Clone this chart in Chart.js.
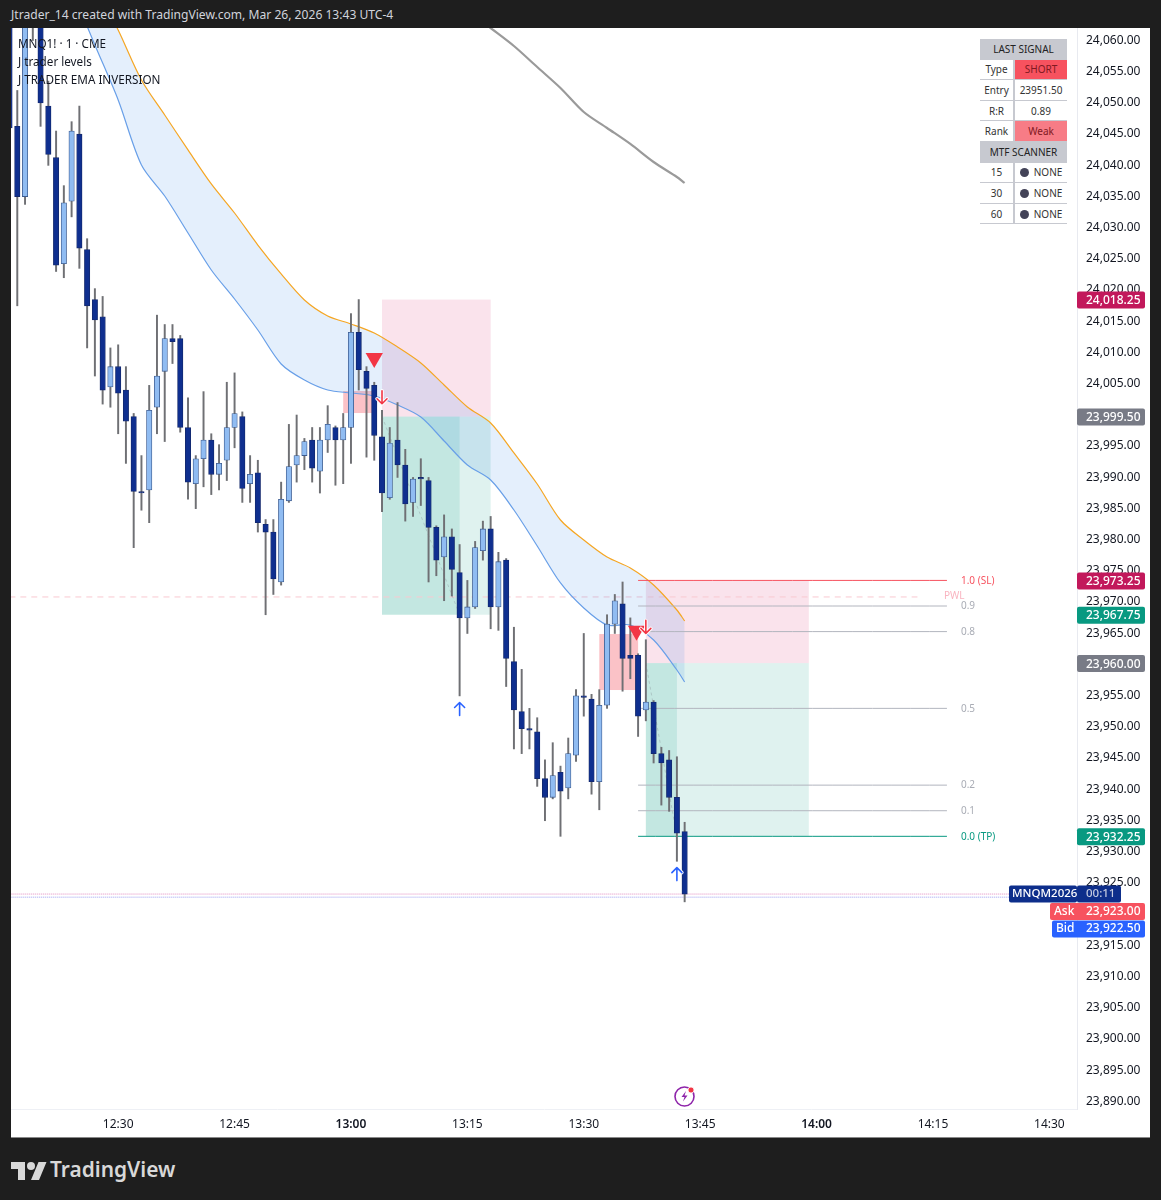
<!DOCTYPE html>
<html>
<head>
<meta charset="utf-8">
<title>MNQ1! 1m</title>
<script src="https://cdn.jsdelivr.net/npm/chart.js@4"></script>
<style>
  html, body { margin: 0; padding: 0; background: #1e1e1e; }
  body { position: relative; width: 1161px; height: 1200px; overflow: hidden; font-family: "Noto Sans", sans-serif; }
  #title { position: absolute; left: 11px; top: 7px; color: #d1d4dc; font-size: 12.1px; line-height: 16px; white-space: nowrap; }
  #chartBox { position: absolute; left: 11px; top: 28px; width: 1139px; height: 1109px; background: #fff; border-bottom: 1px solid #888; box-sizing: content-box; }
  #legend { position: absolute; left: 18px; top: 34px; color: #131722; font-size: 11.7px; line-height: 18px; }
  #signal { position: absolute; left: 980px; top: 39px; width: 87px; border-collapse: collapse; font-size: 10px; color: #333; text-align: center; table-layout: fixed; background: #fff; }
  #signal td { padding: 0; height: 19.6px; border-bottom: 1px solid #c7c9d0; white-space: nowrap; }
  #signal td.lead { border-right: 2px solid #c7c9d0; }
  #signal .head { background: #c7c9d0; color: #222; }
  #signal .short { background: #f7525f; color: #801922; }
  #signal .weak { background: #f77c86; color: #801922; }
  #signal i { display: inline-block; width: 9px; height: 9px; border-radius: 50%; background: #434358; margin-right: 5px; vertical-align: -1px; }
  #bolt { position: absolute; left: 673px; top: 1084px; }
  #logo { position: absolute; left: 11px; top: 1158px; }
  #brand { position: absolute; left: 50px; top: 1154px; color: #d8d8d8; font-size: 20.9px; font-weight: 600; line-height: 30px; }
</style>
</head>
<body>
<div id="title">Jtrader_14 created with TradingView.com, Mar 26, 2026 13:43 UTC-4</div>
<div id="chartBox"><canvas id="chart" width="1139" height="1109"></canvas></div>
<div id="legend">MNQ1! · 1 · CME<br>J trader levels<br>J TRADER EMA INVERSION</div>
<table id="signal">
  <colgroup><col style="width:34px"><col style="width:53px"></colgroup>
  <tr><td class="head" colspan="2">LAST SIGNAL</td></tr>
  <tr><td class="lead">Type</td><td class="short">SHORT</td></tr>
  <tr><td class="lead">Entry</td><td>23951.50</td></tr>
  <tr><td class="lead">R:R</td><td>0.89</td></tr>
  <tr><td class="lead">Rank</td><td class="weak">Weak</td></tr>
  <tr><td class="head" colspan="2">MTF SCANNER</td></tr>
  <tr><td class="lead">15</td><td><i></i>NONE</td></tr>
  <tr><td class="lead">30</td><td><i></i>NONE</td></tr>
  <tr><td class="lead">60</td><td><i></i>NONE</td></tr>
</table>
<svg id="bolt" width="24" height="24" viewBox="0 0 24 24">
  <circle cx="11.5" cy="12.5" r="9.5" fill="none" stroke="#8e24aa" stroke-width="1.6"/>
  <path d="M13 7l-4.5 6h3l-1.5 4.5 4.5-6h-3z" fill="#8e24aa"/>
  <circle cx="18" cy="6" r="3" fill="#f23645" stroke="#fff" stroke-width="0.8"/>
</svg>
<svg id="logo" width="36" height="28" viewBox="0 0 36 28" fill="#d8d8d8">
  <path d="M14 22H7V11H0V4h14v18zM28 22h-8l7.5-18h8L28 22z"/><circle cx="20" cy="8" r="4"/>
</svg>
<div id="brand">TradingView</div>

<script>
// minutes are counted from 13:00, first candle is 12:16
const firstMinute = -44;

const opens = [24066,24046,24034.75,24066,24068,24049.25,24041,24024,24034,24044.75,24026.25,24018.25,24015.5,24004.25,24007.5,24003.75,
  23999.5,23987.5,23987.75,24001,24006.75,24012,24012,23997.75,23988.75,23992.75,23995.75,23990.25,23992.5,23997.75,23999.5,23988.75,
  23990.5,23982.25,23981,23973,23986,23991.75,23993.25,23995.75,23990.75,23995.75,23997.75,23995.75,23997.75,24013,24006.75,24004.5,
  23996.25,23986.5,23995.75,23991.75,23985.75,23989.75,23989.25,23981.75,23977,23980.25,23974.5,23967.25,23969,23978,23981.5,23969,
  23976.5,23960.25,23952.25,23949.5,23949,23941.5,23938.5,23942.5,23940,23945.25,23954.75,23954.25,23941,23953.25,23966.25,23969.5,
  23961.25,23961.25,23952.5,23953.75,23945.5,23944.5,23938.5,23933];
const highs = [24070,24051.75,24070,24072,24072,24053.25,24045.25,24036.5,24046.75,24049.25,24028,24020,24018.75,24010.5,24011,24007.5,
  24000,23993.25,24004.5,24015.75,24014.25,24014.25,24012.5,24002.5,23993.25,24003.5,23996.75,23995,24005,24006.5,24000.25,23993.25,
  23992.5,23983,23983,23989,23998.25,23999.75,23996,23997.75,23997.75,24001.25,23998,24000,24016,24018.25,24007.5,24005,
  24000.5,23997.75,24001.75,23994.25,23989.75,23992.75,23989.75,23982,23983.75,23981.5,23979,23973.25,23979.5,23982.75,23983.5,23977.75,
  23976.75,23965.75,23959,23952.75,23951.25,23944.5,23947.25,23943.5,23948,23955.75,23964.75,23955,23955.75,23967.75,23971,23973,
  23967.25,23961.5,23963.75,23954,23946.5,23946,23945,23934.5];
const lows = [24043,24017.25,24033.5,24059.75,24046,24039.75,24022.75,24021.75,24031.5,24023.25,24010.5,24006,24001.5,24001,23996.75,23992,
  23978.5,23984.5,23982.5,23996.75,23995.5,24008,23997,23986.25,23984.75,23988.25,23987,23987.75,23989.25,23994.5,23985.75,23985.75,
  23981,23967.75,23971,23972.5,23985.75,23989,23991,23989,23987.25,23993.75,23988.5,23988.75,23992,24003.75,23993,23992.5,
  23984.25,23986.25,23989.75,23982.75,23983.5,23985.25,23973,23974,23970,23970.75,23954.75,23964.75,23968.75,23976.5,23965.5,23965.25,
  23956.25,23946.25,23945.5,23946.25,23940.25,23934.75,23938.25,23932.25,23938.25,23944.25,23951.5,23939,23936.5,23952.75,23964.75,23955.5,
  23957.5,23948.25,23950.75,23944,23937.25,23936.25,23928.25,23921.75];
const closes = [24045.75,24034.75,24066,24068,24049.75,24041.5,24023.75,24033.75,24045.25,24026.5,24017.25,24015,24003.75,24007.5,24003.25,23998.75,
  23987.5,23987.25,24000.5,24006,24012,24011.5,23997.75,23989,23992.75,23995.75,23990.25,23992,23997.75,24000,23988,23990.25,
  23982.5,23981,23973.5,23986.25,23991.5,23993.25,23995.5,23991.25,23995.75,23998.25,23995.75,23997.75,24013,24007,24004,23996.5,
  23987.25,23995.25,23991.75,23985.5,23989.5,23989.5,23981.75,23976.5,23980.25,23975,23967.25,23969,23978.5,23981.5,23969,23976.25,
  23960.75,23952.5,23949.5,23949.25,23941.5,23938.5,23942,23939.5,23945.5,23954.75,23954.5,23941,23953.25,23966.25,23970,23960.75,
  23960.75,23951.5,23953.75,23945.5,23944,23938.5,23932.75,23923];

// EMA band and the long average, read every 3 minutes
const bandMinutes = [-36,-33,-30,-27,-24,-21,-18,-15,-12,-9,-6,-3,0,3,6,9,12,15,18,21,24,27,30,33,36,39,42,43];
const emaUpper = [24079,24068.65,24061.44,24053.43,24047.82,24042.22,24036.77,24032.12,24026.99,24022.35,24018.18,24015.62,24014.34,24012.89,
  24010.65,24008.09,24004.56,24001.04,23998.47,23993.67,23988.7,23982.93,23979.73,23977,23975.24,23972.52,23968.51,23966.75];
const emaLower = [24068,24059.04,24050.23,24039.81,24034.84,24028.92,24022.99,24018.34,24013.37,24007.93,24005.36,24003.76,24003.28,24002.8,
  24001.36,23999.43,23995.59,23991.74,23989.34,23984.53,23978.76,23972.84,23968.83,23966.11,23966.11,23963.7,23958.9,23956.97];
const slowMinutes = [17,18,21,24,27,30,33,36,39,42,43];
const slowAverage = [24062.7,24061.76,24058.88,24055.51,24052.15,24048.3,24045.74,24043.18,24040.29,24037.89,24036.93];

// two trades: stop, entry, target, start, end of fill, end of box
const tradeStop = [24018.25, 23973.25];
const tradeEntry = [23999.5, 23960];
const tradeTarget = [23967.75, 23932.25];
const tradeStart = [4, 38];
const tradeFill = [14, 42];
const tradeEnd = [18, 59];

const zoneStart = [-1, 32];
const zoneEnd = [3, 37];
const zoneTop = [24003.6, 23964.66];
const zoneBottom = [24000.07, 23955.69];

const fibLabels = ["1.0 (SL)", "0.9", "0.8", "0.5", "0.2", "0.1", "0.0 (TP)"];
const fibPrices = [23973.25, 23969.15, 23965.05, 23952.75, 23940.45, 23936.35, 23932.25];
const fibColors = ["#f7525f", "#b2b5be", "#b2b5be", "#b2b5be", "#b2b5be", "#b2b5be", "#089981"];
const fibStart = 37;
const fibEnd = 76.8;

const pwlPrice = 23970.6;
const pwlEnd = 73;
const askPrice = 23923;
const bidPrice = 23922.5;

const sellMinutes = [3, 36.8];
const sellPrices = [24008.9, 23965.2];
const downArrowMinutes = [4, 38];
const downArrowPrices = [24002.6, 23965.8];
const upArrowMinutes = [14, 42];
const upArrowPrices = [23952.65, 23926.2];

const tagPrices = [24018.25, 23999.5, 23973.25, 23967.75, 23960, 23932.25];
const tagColors = ["#c2185b", "#787b86", "#c2185b", "#089981", "#787b86", "#089981"];

const xTickLabels = { "-30": "12:30", "-15": "12:45", "0": "13:00", "15": "13:15", "30": "13:30", "45": "13:45", "60": "14:00", "75": "14:15", "90": "14:30" };

const fontName = '"Noto Sans", sans-serif';
const money = (v) => v.toLocaleString("en-US", { minimumFractionDigits: 2, maximumFractionDigits: 2 });
const candleMinute = (i) => firstMinute + i;
const isUp = (i) => closes[i] >= opens[i];

function lineSet(xs, ys, color, width, dash, order) {
  return {
    type: "line",
    data: xs.map((x, i) => ({ x: x, y: ys[i] })),
    borderColor: color,
    borderWidth: width,
    borderDash: dash || [],
    pointRadius: 0,
    tension: 0.3,
    fill: false,
    order: order,
  };
}

function roundBox(ctx, x, y, w, h, color) {
  ctx.fillStyle = color;
  ctx.beginPath();
  ctx.roundRect(x, y, w, h, 2);
  ctx.fill();
}

// boxes under the candles, tags and labels on top of everything
const overlays = {
  id: "overlays",
  beforeDatasetsDraw(chart) {
    const { ctx, scales: { x, y }, chartArea: a } = chart;
    ctx.save();
    ctx.beginPath();
    ctx.rect(a.left, a.top, a.width, a.height);
    ctx.clip();
    tradeStop.forEach((stop, i) => {
      const x0 = x.getPixelForValue(tradeStart[i]);
      const x1 = x.getPixelForValue(tradeEnd[i]);
      const xf = x.getPixelForValue(tradeFill[i]);
      const yS = y.getPixelForValue(stop);
      const yE = y.getPixelForValue(tradeEntry[i]);
      const yT = y.getPixelForValue(tradeTarget[i]);
      ctx.fillStyle = "rgba(216,27,96,0.12)";
      ctx.fillRect(x0, yS, x1 - x0, yE - yS);
      ctx.fillStyle = "rgba(8,153,129,0.13)";
      ctx.fillRect(x0, yE, x1 - x0, yT - yE);
      ctx.fillRect(x0, yE, xf - x0, yT - yE);
    });
    zoneStart.forEach((start, i) => {
      const x0 = x.getPixelForValue(start);
      const y0 = y.getPixelForValue(zoneTop[i]);
      ctx.fillStyle = "rgba(242,54,69,0.3)";
      ctx.fillRect(x0, y0, x.getPixelForValue(zoneEnd[i]) - x0, y.getPixelForValue(zoneBottom[i]) - y0);
    });
    ctx.restore();
  },
  afterDraw(chart) {
    const { ctx, scales: { x, y }, chartArea: a } = chart;
    ctx.save();
    ctx.textBaseline = "middle";

    // arrows
    const arrow = (mx, py, dir, color) => {
      const cx = x.getPixelForValue(mx);
      const cy = y.getPixelForValue(py);
      ctx.lineCap = "round";
      ctx.lineJoin = "round";
      [["#fff", 3.5], [color, 1.6]].forEach(([c, w]) => {
        ctx.strokeStyle = c;
        ctx.lineWidth = w;
        ctx.beginPath();
        ctx.moveTo(cx, cy - 6.5 * dir);
        ctx.lineTo(cx, cy + 6.5 * dir);
        ctx.moveTo(cx - 5, cy + 1.5 * dir);
        ctx.lineTo(cx, cy + 6.5 * dir);
        ctx.lineTo(cx + 5, cy + 1.5 * dir);
        ctx.stroke();
      });
    };
    downArrowMinutes.forEach((m, i) => arrow(m, downArrowPrices[i], 1, "#f23645"));
    upArrowMinutes.forEach((m, i) => arrow(m, upArrowPrices[i], -1, "#2962ff"));

    // level labels
    ctx.font = "10px " + fontName;
    ctx.textAlign = "left";
    fibLabels.forEach((label, i) => {
      ctx.fillStyle = i === 0 ? "#f7525f" : i === 6 ? "#089981" : "#a9acb5";
      ctx.fillText(label, x.getPixelForValue(fibEnd) + 14, y.getPixelForValue(fibPrices[i]) + 0.5);
    });
    ctx.fillStyle = "#f9b4c0";
    ctx.fillText("PWL", x.getPixelForValue(pwlEnd) + 26.5, y.getPixelForValue(pwlPrice) - 1);

    // price tags
    ctx.font = "500 12px " + fontName;
    tagPrices.forEach((price, i) => {
      const py = y.getPixelForValue(price);
      roundBox(ctx, a.right, py - 8, 68, 17, tagColors[i]);
      ctx.fillStyle = "#fff";
      ctx.fillText(money(price), a.right + 9, py + 1);
    });

    // symbol, countdown, ask and bid stacked from the last price
    const py = y.getPixelForValue(askPrice);
    roundBox(ctx, a.right - 68, py - 8.5, 68, 17, "#0d2e8b");
    roundBox(ctx, a.right, py - 8.5, 44, 17, "#0d2e8b");
    ctx.fillStyle = "#fff";
    ctx.font = "500 11.5px " + fontName;
    ctx.fillText("MNQM2026", a.right - 65, py);
    ctx.fillStyle = "#c5cbe0";
    ctx.fillText("00:11", a.right + 9, py);
    ctx.font = "500 12px " + fontName;
    roundBox(ctx, a.right - 27, py + 9, 95, 17, "#f7525f");
    roundBox(ctx, a.right - 25, py + 26.5, 93, 17, "#2962ff");
    ctx.fillStyle = "#fff";
    ctx.fillText("Ask", a.right - 23, py + 17.5);
    ctx.fillText(money(askPrice), a.right + 9, py + 17.5);
    ctx.fillText("Bid", a.right - 21, py + 35);
    ctx.fillText(money(bidPrice), a.right + 9, py + 35);
    ctx.restore();
  },
};

const datasets = [
  lineSet(bandMinutes, emaUpper, "#f5a623", 1.2, null, 20),
  lineSet(bandMinutes, emaLower, "#6ea2e8", 1.2, null, 20),
  lineSet(slowMinutes, slowAverage, "#9a9a9a", 2.2, null, 20),
  lineSet([firstMinute, pwlEnd], [pwlPrice, pwlPrice], "#f9c9d0", 1, [6, 5], 21),
  lineSet([firstMinute, 95], [askPrice, askPrice], "#e28ac0", 1, [1, 1], 21),
  lineSet([firstMinute, 95], [bidPrice, bidPrice], "#9a9ef0", 1, [1, 1], 21),
  lineSet([tradeStart[0], tradeFill[0]], [tradeEntry[0], tradeTarget[0]], "rgba(120,123,134,0.3)", 1, [3, 3], 19),
  lineSet([tradeStart[1], tradeFill[1]], [tradeEntry[1], tradeTarget[1]], "rgba(120,123,134,0.3)", 1, [3, 3], 19),
];
// fill between the two EMAs
datasets[0].fill = { target: 1 };
datasets[0].backgroundColor = "rgba(33,120,230,0.12)";

fibPrices.forEach((price, i) => {
  datasets.push(lineSet([fibStart, fibEnd], [price, price], fibColors[i], 1, null, 18));
});

// wicks then bodies
datasets.push({
  type: "bar",
  data: opens.map((_, i) => ({ x: candleMinute(i), y: [lows[i], highs[i]] })),
  backgroundColor: "#6f7074",
  barThickness: 1.3,
  grouped: false,
  order: 10,
});
datasets.push({
  type: "bar",
  data: opens.map((o, i) => ({ x: candleMinute(i), y: [o, closes[i]] })),
  backgroundColor: opens.map((_, i) => (isUp(i) ? "#90bcf2" : "#0f2f8f")),
  borderColor: opens.map((_, i) => (isUp(i) ? "#3c5b8f" : "#14296a")),
  borderWidth: 0.8,
  borderSkipped: false,
  barThickness: 5.4,
  grouped: false,
  order: 9,
});
datasets.push({
  type: "scatter",
  data: sellMinutes.map((m, i) => ({ x: m, y: sellPrices[i] })),
  pointStyle: "triangle",
  rotation: 180,
  radius: 10,
  backgroundColor: "#f23645",
  borderWidth: 0,
  order: 5,
});

new Chart(document.getElementById("chart"), {
  data: { datasets: datasets },
  plugins: [overlays],
  options: {
    responsive: false,
    animation: false,
    layout: { padding: 0, autoPadding: false },
    plugins: { legend: { display: false }, tooltip: { enabled: false } },
    scales: {
      x: {
        type: "linear",
        min: -43.81,
        max: 93.56,
        offset: false,
        afterFit(s) { s.height = 28; s.paddingLeft = 0; s.paddingRight = 0; },
        grid: { display: false, drawTicks: false },
        border: { display: true, color: "#eef0f5" },
        ticks: {
          stepSize: 15,
          includeBounds: false,
          autoSkip: false,
          maxRotation: 0,
          padding: 8,
          color: "#131722",
          font: (c) => ({ family: fontName, size: 12, weight: c.tick && c.tick.value % 60 === 0 ? "600" : "400" }),
          callback: (v) => xTickLabels[v] || "",
        },
      },
      y: {
        position: "right",
        min: 23888.56,
        max: 24061.76,
        afterFit(s) { s.width = 73; s.paddingTop = 0; s.paddingBottom = 0; },
        grid: { display: false, drawTicks: false },
        border: { display: true, color: "#e8eaf0" },
        ticks: {
          stepSize: 5,
          includeBounds: false,
          autoSkip: false,
          padding: 9,
          labelOffset: 1.3,
          color: "#131722",
          font: { family: fontName, size: 12 },
          callback: (v) => money(v),
        },
      },
    },
  },
});
</script>
</body>
</html>
